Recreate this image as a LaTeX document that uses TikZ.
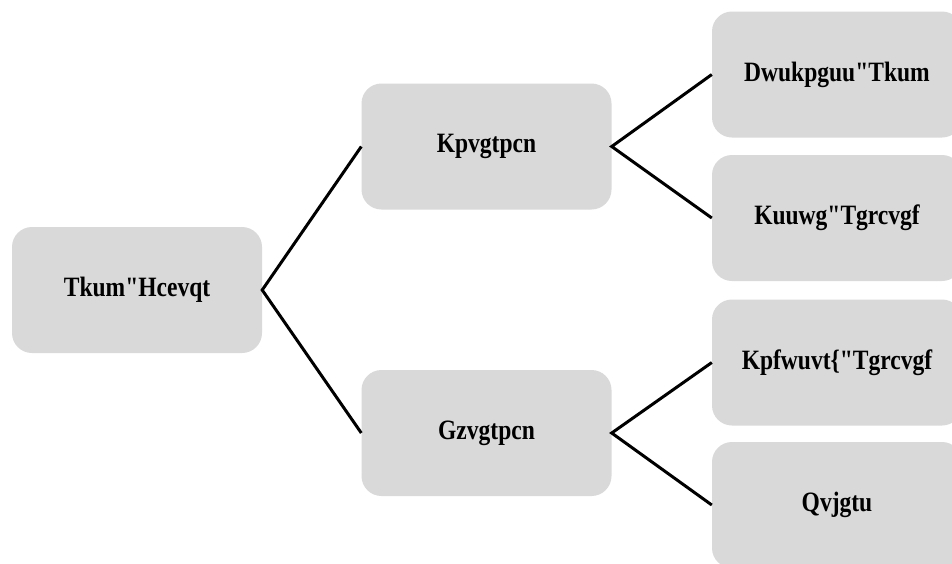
\documentclass[tikz,border=0pt]{standalone}
\usepackage{fontspec}
\setmainfont{Liberation Serif}
\newfontfamily\lblfont[FakeStretch=0.84]{Liberation Serif}
\begin{document}
\begin{tikzpicture}[x=1pt,y=-1pt,
  box/.style={rectangle, rounded corners=20pt, fill={rgb,255:red,217;green,217;blue,217},
    minimum width=250pt, minimum height=126pt, inner sep=0pt,
    font=\lblfont\bfseries\fontsize{28}{32}\selectfont, text=black},
  conn/.style={line width=3pt, black}]
\useasboundingbox (0,0) rectangle (952,563);
\clip (0,0) rectangle (952,563);
\fill[white] (0,0) rectangle (952,563);
\node[box] (root) at (137,290) {Tkum"Hcevqt};
\node[box] (int) at (486.5,146.5) {Kpvgtpcn};
\node[box] (ext) at (486.5,433) {Gzvgtpcn};
\node[box] (l1) at (837,74.5) {Dwukpguu"Tkum};
\node[box] (l2) at (837,218) {Kuuwg"Tgrcvgf};
\node[box] (l3) at (837,362.5) {Kpfwuvt\{"Tgrcvgf};
\node[box] (l4) at (837,505) {Qvjgtu};
\draw[conn] (int.west) -- (root.east) -- (ext.west);
\draw[conn] (l1.west) -- (int.east) -- (l2.west);
\draw[conn] (l3.west) -- (ext.east) -- (l4.west);
\end{tikzpicture}
\end{document}
